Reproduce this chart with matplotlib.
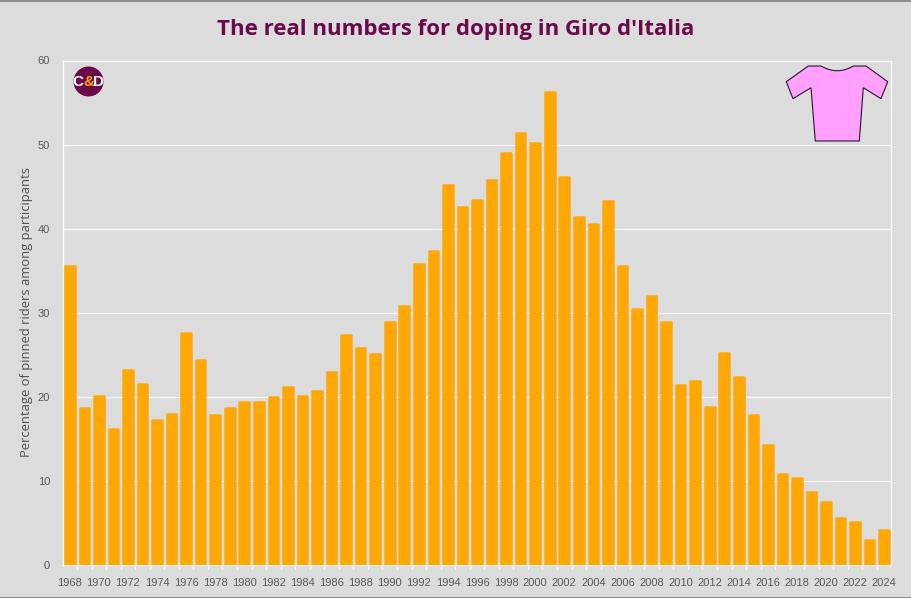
import matplotlib
matplotlib.use('Agg')
import matplotlib.pyplot as plt
import numpy as np
from matplotlib.patches import Circle, PathPatch, Rectangle
from matplotlib.path import Path
from matplotlib.transforms import Affine2D

W, H = 912, 598

years = list(range(1968, 2025))
pinned_pct = [35.7, 18.8, 20.3, 16.3, 23.3, 21.7, 17.4, 18.1, 27.8, 24.5,
              18.0, 18.8, 19.5, 19.5, 20.1, 21.3, 20.2, 20.9, 23.1, 27.5,
              25.9, 25.2, 29.1, 30.9, 35.9, 37.5, 45.4, 42.7, 43.5, 45.9,
              49.1, 51.5, 50.3, 56.4, 46.3, 41.5, 40.7, 43.4, 35.7, 30.6,
              32.1, 29.1, 21.5, 22.0, 19.0, 25.4, 22.5, 18.0, 14.4, 11.0,
              10.5, 8.8, 7.6, 5.7, 5.3, 3.1, 4.3]
y_ticks = [0, 10, 20, 30, 40, 50, 60]

BG = '#dcdcdc'
ORANGE = '#ffa805'
PURPLE = '#6a0a4a'
TICK_GREY = '#595959'

fig = plt.figure(figsize=(W / 100, H / 100), dpi=100, facecolor=BG)
ax = fig.add_axes([62.5 / W, 1 - 565 / H, 829 / W, 504.5 / H], facecolor=BG)

x = np.arange(len(years))
# the round edge sticks out about a pixel above the value
ax.bar(x, np.array(pinned_pct) - 0.15, width=0.66, color=ORANGE, edgecolor=ORANGE,
       linewidth=1.8, joinstyle='round', zorder=3)

ax.set_xlim(-0.5, len(years) - 0.5)
ax.set_ylim(0, 60)

# year labels every 2 years, white ticks on every category boundary
ax.set_xticks(x[::2])
ax.set_xticklabels(years[::2])
ax.set_xticks(x[:-1] + 0.5, minor=True)
ax.set_yticks(y_ticks)
ax.tick_params(axis='x', which='major', length=0, pad=9.5, labelsize=8, labelcolor=TICK_GREY)
ax.tick_params(axis='x', which='minor', length=3, width=0.8, color='white')
ax.tick_params(axis='y', length=0, pad=9, labelsize=8, labelcolor=TICK_GREY)
for lab in ax.get_xticklabels() + ax.get_yticklabels():
    lab.set_family('Liberation Sans')

ax.grid(True, axis='y', color='white', linewidth=0.8, zorder=1)
ax.set_axisbelow(True)
for s in ax.spines.values():
    s.set_color('white')
    s.set_linewidth(0.9)
    s.set_zorder(2)

fig.text(455.5 / W, 1 - 30 / H, "The real numbers for doping in Giro d'Italia",
         ha='center', va='center', fontsize=16, fontweight='bold', color=PURPLE,
         family='Open Sans')
fig.text(27 / W, 1 - 312 / H, 'Percentage of pinned riders among participants',
         rotation=90, ha='center', va='center', fontsize=9.4, color='#505050',
         family='Open Sans')

# pixel coordinates with the origin at the top left of the figure
px = Affine2D().scale(1 / W, -1 / H).translate(0, 1) + fig.transFigure

# logo
fig.add_artist(Circle((88.5, 81.5), 15, facecolor=PURPLE, edgecolor='none', transform=px))
fig.text(78 / W, 1 - 82 / H, 'C', color='white', fontsize=11, fontweight='bold',
         ha='center', va='center', family='Liberation Sans')
fig.text(88.5 / W, 1 - 82 / H, '&', color=ORANGE, fontsize=11, fontweight='bold',
         ha='center', va='center', family='Liberation Sans')
fig.text(99 / W, 1 - 82 / H, 'D', color='white', fontsize=11, fontweight='bold',
         ha='center', va='center', family='Liberation Sans')

# pink jersey
verts = [(808.3, 66), (821, 66), (837.3, 75.5), (853.3, 66),
         (866, 66), (887.7, 81.7), (881, 98.7), (863.3, 87.7), (859.3, 141),
         (815.3, 141), (811, 87.7), (793, 98.7), (786.3, 81.7), (808.3, 66)]
codes = [Path.MOVETO, Path.LINETO, Path.CURVE3, Path.CURVE3,
         Path.LINETO, Path.LINETO, Path.LINETO, Path.LINETO, Path.LINETO,
         Path.LINETO, Path.LINETO, Path.LINETO, Path.LINETO, Path.CLOSEPOLY]
fig.add_artist(PathPatch(Path(verts, codes), facecolor='#ffa0ff', edgecolor='#2b1230',
                         linewidth=0.8, transform=px))

# thin grey frame at the image edge
fig.add_artist(Rectangle((0, 0), W, 1.5, facecolor='#8c8c8c', edgecolor='none', transform=px))
fig.add_artist(Rectangle((0, H - 1.5), W, 1.5, facecolor='#8c8c8c', edgecolor='none', transform=px))

fig.savefig('out.png', dpi=100, facecolor=BG)
